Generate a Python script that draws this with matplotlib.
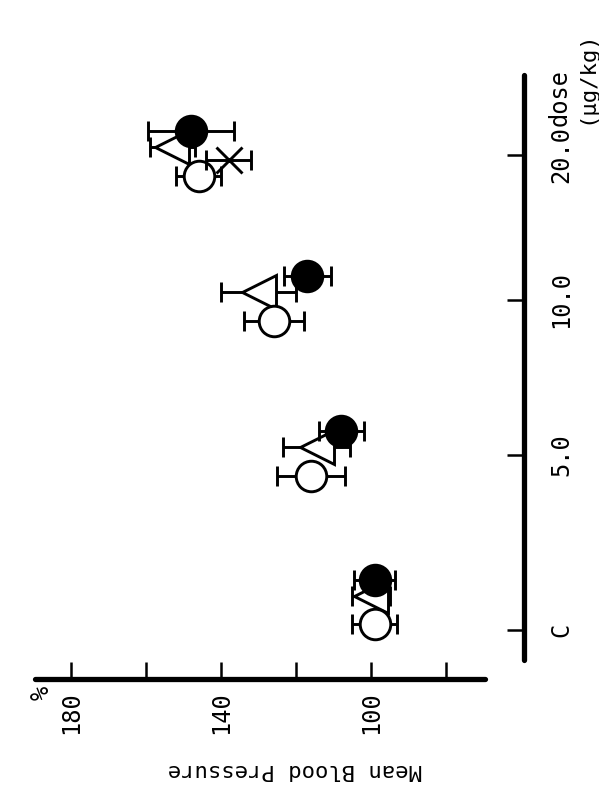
import numpy as np
import matplotlib
matplotlib.use("Agg")
import matplotlib.pyplot as plt

# Dose groups (drawn along the vertical axis, lowest dose at the bottom)
dose_labels = ["C", "5.0", "10.0", "20.0"]
dose_slots = [0.0, 1.0, 1.886, 2.714]      # tick positions along the dose axis
cluster_shift = [0.15, 0.0, 0.0, 0.0]      # where each group's symbols sit relative to its tick

# Mean blood pressure (% of control) and error bar half-widths
filled_circle = [99, 108, 117, 148]
filled_circle_err = [5.5, 6, 6.2, 11.5]
triangle = [100, 114.5, 130, 153]
triangle_err = [5, 9, 10, 6]
open_circle = [99, 116, 126, 146]
open_circle_err = [6, 9, 8, 6]
cross = [np.nan, np.nan, np.nan, 138]
cross_err = [np.nan, np.nan, np.nan, 6]

mbp_ticks = [180, 160, 140, 120, 100, 80]
mbp_ticklabels = ["180", "", "140", "", "100", ""]

W, H = 599, 798
fig = plt.figure(figsize=(W / 100, H / 100), dpi=100)
fig.patch.set_facecolor("white")

ax_left, ax_right, ax_bottom, ax_top = 35, 524, 679, 75
ax = fig.add_axes([ax_left / W, 1 - ax_bottom / H,
                   (ax_right - ax_left) / W, (ax_bottom - ax_top) / H])
ax.set_facecolor("none")

font = "DejaVu Sans Mono"
fs = 17

ax.set_xlim(189.6, 59.2)
ax.set_ylim(-0.28, 3.171)

lw = 2.1
# series: values, errors, within-group offset, marker style, layer
series = [
    (triangle, triangle_err, 0.046, dict(marker="<", ms=24, mfc="white"), 2),
    (open_circle, open_circle_err, -0.118, dict(marker="o", ms=22, mfc="white"), 3),
    (cross, cross_err, -0.029, dict(marker="x", ms=19, mfc="white"), 4),
    (filled_circle, filled_circle_err, 0.137, dict(marker="o", ms=22, mfc="black"), 5),
]
for vals, errs, off, style, z in series:
    ypos = np.array(dose_slots) + np.array(cluster_shift) + off
    ax.errorbar(vals, ypos, xerr=errs, fmt="none", ecolor="black",
                elinewidth=lw, capsize=7, capthick=lw, zorder=z)
    ax.plot(vals, ypos, linestyle="none", color="black", mec="black",
            mew=lw, zorder=z + 0.5, **style)

# axes lines
for s in ["top", "left"]:
    ax.spines[s].set_visible(False)
ax.spines["bottom"].set_bounds(189.6, 69.7)
ax.spines["right"].set_bounds(-0.1714, 3.171)
for s in ["bottom", "right"]:
    ax.spines[s].set_linewidth(3.8)
    ax.spines[s].set_capstyle("round")

ax.set_xticks(mbp_ticks)
ax.set_xticklabels(mbp_ticklabels, rotation=90, fontsize=fs, family=font)
ax.tick_params(axis="x", direction="in", length=12, width=1.8, pad=9)

ax.yaxis.tick_right()
ax.set_yticks(dose_slots)
ax.set_yticklabels(dose_labels, rotation=90, fontsize=fs, family=font,
                   va="center")
ax.tick_params(axis="y", direction="in", length=12, width=1.8, pad=18)

# axis titles and units
fig.text(560 / W, 1 - 126 / H, "dose", rotation=90, ha="center", va="bottom",
         fontsize=fs, family=font)
fig.text(586 / W, 1 - 124 / H, "(μg/kg)", rotation=90, ha="center", va="bottom",
         fontsize=fs - 1, family=font)
fig.text(42 / W, 1 - 693 / H, "%", rotation=90, ha="center", va="center",
         fontsize=fs, family=font)
fig.text(295 / W, 1 - 770 / H, "Mean Blood Pressure", rotation=180,
         ha="center", va="center", fontsize=fs - 1, family=font)

fig.savefig("out.png", dpi=100, facecolor="white")
